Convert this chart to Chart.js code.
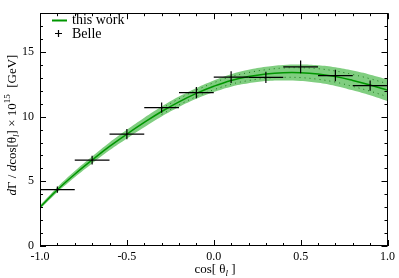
<!DOCTYPE html>
<html>
<head>
<meta charset="utf-8">
<script src="https://cdn.jsdelivr.net/npm/chart.js@4.4.1/dist/chart.umd.min.js"></script>
<style>
  html, body { margin: 0; padding: 0; background: #fff; }
</style>
</head>
<body>
<canvas id="chart" width="399" height="278"></canvas>
<script>
// theory curve ("this work")
const curveX = [-1.0, -0.9, -0.8, -0.7, -0.6, -0.5, -0.4, -0.3, -0.2, -0.1, 0.0,
                0.1, 0.2, 0.3, 0.4, 0.5, 0.6, 0.7, 0.8, 0.9, 1.0];
const curveMid = [3.0, 4.35, 5.55, 6.65, 7.7, 8.65, 9.55, 10.4, 11.15, 11.8, 12.35,
                  12.8, 13.1, 13.3, 13.4, 13.4, 13.3, 13.1, 12.8, 12.45, 12.05];
const curveLow = [2.85, 4.15, 5.31, 6.38, 7.4, 8.32, 9.19, 10.02, 10.75, 11.38, 11.9,
                  12.32, 12.58, 12.75, 12.8, 12.76, 12.62, 12.38, 12.04, 11.65, 11.21];
const curveHigh = [3.15, 4.55, 5.79, 6.92, 8.0, 8.98, 9.91, 10.78, 11.55, 12.22, 12.8,
                   13.28, 13.62, 13.85, 14.0, 14.04, 13.98, 13.82, 13.56, 13.25, 12.89];

// dotted inner band edges
const innerX = [-0.3, -0.2, -0.1, 0.0, 0.1, 0.2, 0.3, 0.4, 0.5, 0.6, 0.7, 0.8, 0.9, 1.0];
const innerHigh = [10.63, 11.39, 12.05, 12.62, 13.09, 13.41, 13.63, 13.76, 13.78, 13.71, 13.53, 13.26, 12.93, 12.55];
const innerLow = [10.17, 10.91, 11.55, 12.08, 12.51, 12.79, 12.97, 13.04, 13.02, 12.89, 12.67, 12.34, 11.97, 11.55];

// Belle data points
const belleX = [-0.9, -0.7, -0.5, -0.3, -0.1, 0.1, 0.3, 0.5, 0.7, 0.9];
const belleY = [4.36, 6.64, 8.65, 10.7, 11.86, 13.06, 13.04, 13.85, 13.18, 12.4];
const belleYErr = [0.25, 0.33, 0.4, 0.4, 0.43, 0.46, 0.44, 0.5, 0.44, 0.4];
const belleXErr = 0.1;

// axis ticks
const xMajor = [-1.0, -0.5, 0.0, 0.5, 1.0];
const yMajor = [0, 5, 10, 15];

const SERIF = "'Liberation Serif', 'DejaVu Serif', serif";
const bandColor = 'rgb(128,206,128)';
const lineColor = 'rgb(0,150,0)';

const pts = (xs, ys) => xs.map((x, i) => ({ x: x, y: ys[i] }));

// draws a run of text pieces with their own fonts / offsets
function drawPieces(ctx, pieces, x, y, align) {
  let total = 0;
  pieces.forEach(p => { ctx.font = p.font; p.w = ctx.measureText(p.t).width; total += p.w; });
  let cx = align === 'center' ? x - total / 2 : x;
  pieces.forEach(p => {
    ctx.font = p.font;
    ctx.fillText(p.t, cx, y + (p.dy || 0));
    cx += p.w;
  });
}

const decorPlugin = {
  id: 'decor',
  afterDatasetsDraw(chart) {
    const ctx = chart.ctx;
    const xs = chart.scales.x, ys = chart.scales.y;
    const a = chart.chartArea;

    // error bars
    ctx.save();
    ctx.strokeStyle = '#000';
    ctx.lineWidth = 1.2;
    belleX.forEach((bx, i) => {
      const px = xs.getPixelForValue(bx);
      const py = ys.getPixelForValue(belleY[i]);
      ctx.beginPath();
      ctx.moveTo(xs.getPixelForValue(bx - belleXErr), py);
      ctx.lineTo(xs.getPixelForValue(bx + belleXErr), py);
      ctx.moveTo(px, ys.getPixelForValue(belleY[i] - belleYErr[i]));
      ctx.lineTo(px, ys.getPixelForValue(belleY[i] + belleYErr[i]));
      ctx.stroke();
    });
    ctx.restore();

    // frame and inward ticks
    ctx.save();
    ctx.strokeStyle = '#000';
    ctx.lineWidth = 1;
    ctx.strokeRect(Math.round(a.left) + 0.5, Math.round(a.top) + 0.5,
                   Math.round(a.right - a.left) - 1, Math.round(a.bottom - a.top) - 1);
    ctx.beginPath();
    for (let k = -10; k <= 10; k++) {
      const v = k / 10;
      const len = (k % 5 === 0) ? 6 : 3;
      const px = Math.round(xs.getPixelForValue(v)) + 0.5;
      ctx.moveTo(px, a.bottom); ctx.lineTo(px, a.bottom - len);
      ctx.moveTo(px, a.top); ctx.lineTo(px, a.top + len);
    }
    for (let v = 0; v <= 18; v++) {
      const len = (v % 5 === 0) ? 6 : 3;
      const py = Math.round(ys.getPixelForValue(v)) + 0.5;
      ctx.moveTo(a.left, py); ctx.lineTo(a.left + len, py);
      ctx.moveTo(a.right, py); ctx.lineTo(a.right - len, py);
    }
    ctx.stroke();
    ctx.restore();

    // legend
    ctx.save();
    ctx.strokeStyle = lineColor;
    ctx.lineWidth = 2;
    ctx.beginPath();
    ctx.moveTo(52, 20.5); ctx.lineTo(67, 20.5);
    ctx.stroke();
    ctx.strokeStyle = '#000';
    ctx.lineWidth = 1.2;
    ctx.beginPath();
    ctx.moveTo(55, 33.5); ctx.lineTo(62, 33.5);
    ctx.moveTo(58.5, 30); ctx.lineTo(58.5, 37);
    ctx.stroke();
    ctx.fillStyle = '#000';
    ctx.font = '14px ' + SERIF;
    ctx.textBaseline = 'middle';
    ctx.textAlign = 'left';
    ctx.fillText('this work', 72, 20);
    ctx.fillText('Belle', 72, 34);
    ctx.restore();

    // axis titles
    ctx.save();
    ctx.fillStyle = '#000';
    ctx.textBaseline = 'alphabetic';
    ctx.textAlign = 'left';
    const reg = '13px ' + SERIF, ita = 'italic 13px ' + SERIF;
    const smallIta = 'italic 9px ' + SERIF, small = '9px ' + SERIF;
    drawPieces(ctx, [
      { t: 'cos[ θ', font: reg },
      { t: 'l', font: smallIta, dy: 3 },
      { t: ' ]', font: reg }
    ], 215, 273, 'center');

    ctx.translate(16, 125);
    ctx.rotate(-Math.PI / 2);
    drawPieces(ctx, [
      { t: 'd', font: ita },
      { t: 'Γ / ', font: reg },
      { t: 'd', font: ita },
      { t: 'cos[θ', font: reg },
      { t: 'l', font: smallIta, dy: 3 },
      { t: '] × 10', font: reg },
      { t: '15', font: small, dy: -6 },
      { t: '  [GeV]', font: reg }
    ], 0, 0, 'center');
    ctx.restore();
  }
};

const lineBase = { pointRadius: 0, tension: 0.4, fill: false };

new Chart(document.getElementById('chart').getContext('2d'), {
  type: 'line',
  data: {
    datasets: [
      Object.assign({}, lineBase, { label: 'low', order: 11, data: pts(curveX, curveLow), borderWidth: 0, borderColor: 'rgba(0,0,0,0)' }),
      Object.assign({}, lineBase, { label: 'high', order: 10, data: pts(curveX, curveHigh), borderWidth: 0, borderColor: 'rgba(0,0,0,0)', fill: '-1', backgroundColor: bandColor }),
      Object.assign({}, lineBase, { label: 'innerHigh', order: 3, data: pts(innerX, innerHigh), borderWidth: 1, borderColor: 'rgb(30,120,30)', borderDash: [1, 4] }),
      Object.assign({}, lineBase, { label: 'innerLow', order: 3, data: pts(innerX, innerLow), borderWidth: 1, borderColor: 'rgb(30,120,30)', borderDash: [1, 4] }),
      Object.assign({}, lineBase, { label: 'this work', order: 1, data: pts(curveX, curveMid), borderWidth: 1.5, borderColor: lineColor }),
      { type: 'scatter', label: 'Belle', order: 0, data: pts(belleX, belleY), pointRadius: 0, showLine: false }
    ]
  },
  options: {
    responsive: false,
    animation: false,
    layout: { padding: { top: 1, right: 8, left: 0, bottom: 0 } },
    plugins: { legend: { display: false }, tooltip: { enabled: false } },
    scales: {
      x: {
        type: 'linear', min: -1, max: 1,
        afterBuildTicks: s => { s.ticks = xMajor.map(v => ({ value: v })); },
        afterFit: s => { s.height = 32; },
        grid: { display: false, drawTicks: false },
        border: { display: false },
        ticks: {
          callback: v => v.toFixed(1),
          color: '#000', padding: 4, maxRotation: 0, autoSkip: false,
          font: { family: SERIF, size: 12 }
        }
      },
      y: {
        type: 'linear', min: 0, max: 18,
        afterBuildTicks: s => { s.ticks = yMajor.map(v => ({ value: v })); },
        afterFit: s => { s.width = 40; },
        grid: { display: false, drawTicks: false },
        border: { display: false },
        ticks: {
          callback: v => String(v),
          color: '#000', padding: 6,
          font: { family: SERIF, size: 12 }
        }
      }
    }
  },
  plugins: [decorPlugin]
});
</script>
</body>
</html>
